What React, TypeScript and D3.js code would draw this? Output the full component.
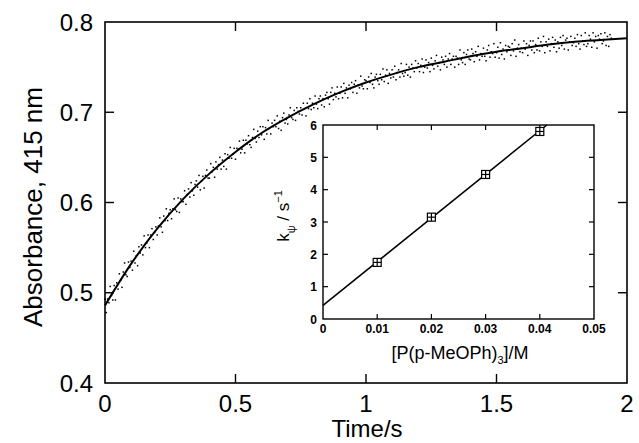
import React from "react";
import * as d3 from "d3";

// ---- Main kinetic trace (Absorbance at 415 nm vs time) ----
const sampleInterval = 0.005; // s
const absorbanceMilli = [
  493, 478, 493, 489, 507, 497, 492, 508, 492, 511,
  504, 521, 514, 506, 523, 533, 520, 518, 534, 528,
  535, 525, 546, 533, 541, 530, 551, 544, 553, 542,
  563, 550, 555, 564, 550, 564, 571, 559, 567, 573,
  564, 574, 583, 573, 567, 585, 580, 593, 580, 588,
  592, 582, 593, 604, 592, 590, 605, 589, 604, 601,
  601, 613, 598, 609, 615, 606, 622, 613, 608, 620,
  624, 617, 630, 614, 624, 629, 616, 630, 636, 627,
  627, 643, 634, 639, 628, 645, 637, 642, 650, 637,
  647, 640, 654, 637, 653, 649, 661, 649, 654, 660,
  648, 660, 659, 668, 655, 659, 669, 655, 669, 665,
  674, 664, 661, 672, 681, 671, 667, 679, 672, 684,
  675, 684, 670, 683, 676, 691, 682, 676, 688, 684,
  691, 684, 696, 682, 690, 680, 694, 699, 688, 692,
  687, 697, 705, 694, 692, 702, 691, 705, 701, 698,
  705, 697, 710, 704, 696, 710, 704, 715, 703, 710,
  705, 718, 709, 704, 715, 718, 708, 715, 706, 719,
  722, 715, 709, 722, 727, 714, 721, 717, 728, 715,
  721, 728, 716, 732, 721, 727, 716, 730, 726, 733,
  722, 731, 735, 721, 730, 727, 740, 729, 726, 736,
  735, 726, 739, 733, 743, 731, 727, 739, 742, 735,
  731, 742, 736, 748, 734, 741, 747, 732, 743, 738,
  747, 739, 751, 736, 744, 747, 739, 754, 743, 740,
  744, 753, 741, 750, 739, 753, 749, 745, 757, 749,
  754, 745, 752, 759, 744, 750, 758, 749, 755, 745,
  760, 752, 748, 757, 763, 751, 755, 747, 761, 758,
  753, 762, 750, 759, 765, 753, 759, 762, 750, 762,
  760, 753, 769, 758, 755, 766, 753, 764, 769, 759,
  758, 770, 765, 756, 767, 762, 773, 758, 765, 762,
  771, 762, 757, 769, 774, 761, 767, 765, 776, 761,
  766, 772, 760, 777, 764, 770, 759, 774, 767, 773,
  772, 763, 776, 768, 780, 762, 771, 775, 767, 771,
  766, 779, 770, 776, 763, 774, 779, 769, 779, 766,
  775, 769, 782, 768, 778, 773, 784, 766, 778, 773,
  781, 768, 776, 783, 772, 780, 767, 778, 771, 783,
  774, 785, 770, 780, 782, 769, 778, 784, 774, 777,
  782, 773, 786, 776, 770, 785, 779, 775, 788, 773,
  776, 785, 781, 772, 788, 778, 784, 771, 785, 781,
  787, 776, 779, 788, 774, 784, 773, 786, 782,
];

// Fitted curve
const fitTime = [0, 0.1, 0.2, 0.3, 0.4, 0.5, 0.6, 0.7, 0.8, 0.9, 1.0, 1.1, 1.2, 1.3, 1.4, 1.5, 1.6, 1.7, 1.8, 1.9, 2.0];
const fitAbs = [0.486, 0.532, 0.571, 0.604, 0.632, 0.656, 0.677, 0.694, 0.709, 0.722, 0.733, 0.742, 0.75, 0.756, 0.762, 0.767, 0.771, 0.775, 0.778, 0.78, 0.782];

const mainXTicks = [0, 0.5, 1, 1.5, 2];
const mainXLabels = ["0", "0.5", "1", "1.5", "2"];
const mainYTicks = [0.4, 0.5, 0.6, 0.7, 0.8];
const mainYLabels = ["0.4", "0.5", "0.6", "0.7", "0.8"];

// ---- Inset: k_psi vs [P(p-MeOPh)3] ----
const insetConc = [0.01, 0.02, 0.03, 0.04];
const insetK = [1.75, 3.15, 4.47, 5.8];
const insetFitConc = [0, 0.0413];
const insetFitK = [0.42, 6.0];
const insetXTicks = [0, 0.01, 0.02, 0.03, 0.04, 0.05];
const insetXLabels = ["0", "0.01", "0.02", "0.03", "0.04", "0.05"];
const insetYTicks = [0, 1, 2, 3, 4, 5, 6];
const insetYLabels = ["0", "1", "2", "3", "4", "5", "6"];

const FONT = "'Liberation Sans', Arial, Helvetica, sans-serif";

export default function App() {
  const W = 639, H = 443;
  const x = d3.scaleLinear().domain([0, 2]).range([105, 627]);
  const y = d3.scaleLinear().domain([0.4, 0.8]).range([383, 22]);

  const ix = d3.scaleLinear().domain([0, 0.05]).range([323, 594]);
  const iy = d3.scaleLinear().domain([0, 6]).range([319, 125]);

  const dots = absorbanceMilli.map((a, i) => ({ t: i * sampleInterval, a: a / 1000 }));
  const fitLine = d3
    .line<number>()
    .x((_, i) => x(fitTime[i]))
    .y((d) => y(d))
    .curve(d3.curveMonotoneX)(fitAbs);

  const insetLine = d3
    .line<number>()
    .x((_, i) => ix(insetFitConc[i]))
    .y((d) => iy(d))(insetFitK);

  const [x0, x1] = x.range();
  const [y0, y1] = y.range();
  const tl = 9;

  const [ix0, ix1] = ix.range();
  const [iy0, iy1] = iy.range();
  const itl = 5;
  const ms = 8;

  return (
    <svg
      width={W}
      height={H}
      style={{ position: "absolute", left: 0, top: 0, background: "#fff" }}
      fontFamily={FONT}
    >
      <rect x={0} y={0} width={W} height={H} fill="#fff" />
      <g fill="#000">
        {dots.map((d, i) => (
          <rect key={i} x={x(d.t) - 0.75} y={y(d.a) - 0.75} width={1.5} height={1.5} />
        ))}
      </g>
      <path d={fitLine || ""} fill="none" stroke="#000" strokeWidth={2} />

      <rect x={x0} y={y1} width={x1 - x0} height={y0 - y1} fill="none" stroke="#000" strokeWidth={1.6} />
      <g stroke="#000" strokeWidth={1.4}>
        {mainXTicks.slice(1, -1).map((t) => (
          <g key={"xt" + t}>
            <line x1={x(t)} x2={x(t)} y1={y0} y2={y0 - tl} />
            <line x1={x(t)} x2={x(t)} y1={y1} y2={y1 + tl} />
          </g>
        ))}
        {mainYTicks.slice(1, -1).map((t) => (
          <g key={"yt" + t}>
            <line x1={x0} x2={x0 + tl} y1={y(t)} y2={y(t)} />
            <line x1={x1} x2={x1 - tl} y1={y(t)} y2={y(t)} />
          </g>
        ))}
      </g>
      <g fontSize={24} fill="#000">
        {mainXTicks.map((t, i) => (
          <text key={"xl" + t} x={x(t)} y={412} textAnchor="middle">
            {mainXLabels[i]}
          </text>
        ))}
        {mainYTicks.map((t, i) => (
          <text key={"yl" + t} x={93} y={y(t) + 8.5} textAnchor="end">
            {mainYLabels[i]}
          </text>
        ))}
        <text x={367} y={437} textAnchor="middle">
          Time/s
        </text>
        <text transform={`translate(42,207) rotate(-90)`} textAnchor="middle" fontSize={26}>
          Absorbance, 415 nm
        </text>
      </g>

      {/* inset */}
      <rect x={ix0} y={iy1} width={ix1 - ix0} height={iy0 - iy1} fill="#fff" stroke="#000" strokeWidth={1.4} />
      <g stroke="#000" strokeWidth={1.2}>
        {insetXTicks.slice(1, -1).map((t) => (
          <g key={"ixt" + t}>
            <line x1={ix(t)} x2={ix(t)} y1={iy0} y2={iy0 - itl} />
            <line x1={ix(t)} x2={ix(t)} y1={iy1} y2={iy1 + itl} />
          </g>
        ))}
        {insetYTicks.slice(1, -1).map((t) => (
          <g key={"iyt" + t}>
            <line x1={ix0} x2={ix0 + itl} y1={iy(t)} y2={iy(t)} />
            <line x1={ix1} x2={ix1 - itl} y1={iy(t)} y2={iy(t)} />
          </g>
        ))}
      </g>
      <path d={insetLine || ""} fill="none" stroke="#000" strokeWidth={1.6} />
      <g stroke="#000" strokeWidth={1.2} fill="#fff">
        {insetConc.map((c, i) => (
          <g key={"m" + c}>
            <rect x={ix(c) - ms / 2} y={iy(insetK[i]) - ms / 2} width={ms} height={ms} />
            <line x1={ix(c)} x2={ix(c)} y1={iy(insetK[i]) - ms / 2} y2={iy(insetK[i]) + ms / 2} />
            <line x1={ix(c) - ms / 2} x2={ix(c) + ms / 2} y1={iy(insetK[i])} y2={iy(insetK[i])} />
          </g>
        ))}
      </g>
      <g fontSize={12} fontWeight="bold" fill="#000">
        {insetXTicks.map((t, i) => (
          <text key={"ixl" + t} x={ix(t)} y={333} textAnchor="middle">
            {insetXLabels[i]}
          </text>
        ))}
        {insetYTicks.map((t, i) => (
          <text key={"iyl" + t} x={317} y={iy(t) + 4.5} textAnchor="end">
            {insetYLabels[i]}
          </text>
        ))}
      </g>
      <text x={460} y={359} textAnchor="middle" fontSize={18} fill="#000">
        [P(p-MeOPh)
        <tspan fontSize={11} dy={5}>3</tspan>
        <tspan dy={-5}>]/M</tspan>
      </text>
      <text transform={`translate(289,216) rotate(-90)`} textAnchor="middle" fontSize={17} fill="#000">
        k<tspan fontSize={11} dy={6}>ψ</tspan>
        <tspan dy={-6}> / s</tspan>
        <tspan fontSize={11} dy={-7}>−1</tspan>
      </text>
    </svg>
  );
}
